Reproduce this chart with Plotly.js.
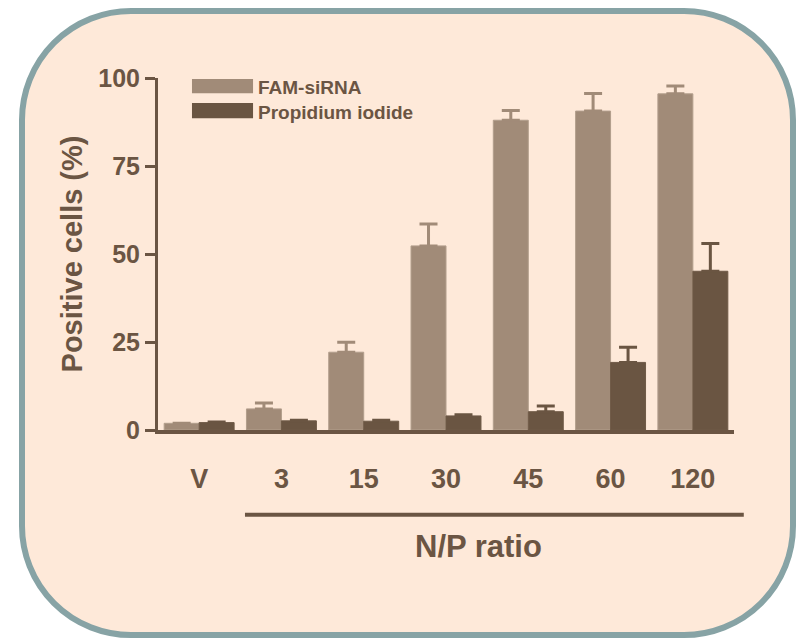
<!DOCTYPE html>
<html>
<head>
<meta charset="utf-8">
<script src="https://cdn.plot.ly/plotly-3.0.1.min.js"></script>
<style>
  html, body { margin: 0; padding: 0; background: #ffffff; }
  #frame { position: absolute; left: 19px; top: 8px; width: 777px; height: 630px;
           box-sizing: border-box; border: 6px solid #87a3a5; border-radius: 112px;
           background: #fee9d9; }
  #chart { position: absolute; left: 0; top: 0; width: 800px; height: 639px; }
</style>
</head>
<body>
<div id="frame"></div>
<div id="chart"></div>
<script>
// ---- data ----
const categories = ["V", "3", "15", "30", "45", "60", "120"];
const seriesNames = ["FAM-siRNA", "Propidium iodide"];
const famValues = [1.9, 6.0, 22.1, 52.3, 88.0, 90.6, 95.5];
const famErrors = [0, 1.7, 2.8, 6.2, 2.8, 5.0, 2.2];
const piValues = [2.1, 2.6, 2.5, 4.0, 5.2, 19.2, 45.1];
const piErrors = [0.2, 0.2, 0.3, 0.3, 1.6, 4.3, 7.9];
const yTicks = [0, 25, 50, 75, 100];
const yAxisTitle = "Positive cells (%)";
const xAxisTitle = "N/P ratio";

// ---- styles ----
const ink = "#6b5543";
const famColor = "#a18b78";
const piColor = "#6a5542";
const fontFamily = "Liberation Sans, Arial, sans-serif";

const zeros = n => n.map(() => 0);

const traces = [
  {
    type: "bar", name: seriesNames[0], x: categories, y: famValues,
    marker: { color: famColor, line: { color: "#b29e8c", width: 1 } },
    error_y: { type: "data", array: famErrors, arrayminus: zeros(famErrors), symmetric: false,
               color: famColor, thickness: 3, width: 9 },
    hoverinfo: "x+y"
  },
  {
    type: "bar", name: seriesNames[1], x: categories, y: piValues,
    marker: { color: piColor, line: { color: "#6f5a47", width: 1 } },
    error_y: { type: "data", array: piErrors, arrayminus: zeros(piErrors), symmetric: false,
               color: piColor, thickness: 3, width: 9 },
    hoverinfo: "x+y"
  }
];

const layout = {
  width: 800, height: 639,
  margin: { l: 158, r: 66, t: 78, b: 209 },
  paper_bgcolor: "rgba(0,0,0,0)",
  plot_bgcolor: "rgba(0,0,0,0)",
  showlegend: false,
  barmode: "group",
  bargap: 0.15,
  bargroupgap: 0,
  font: { family: fontFamily, color: ink, weight: "bold" },
  xaxis: {
    type: "category",
    range: [-0.5, categories.length - 0.5],
    showline: true, linecolor: ink, linewidth: 4,
    ticks: "", showgrid: false, zeroline: false,
    tickfont: { size: 27, color: ink, family: fontFamily, weight: "bold" },
    ticklabelstandoff: 22,
    automargin: false
  },
  yaxis: {
    range: [0, 100],
    tickvals: yTicks,
    ticktext: yTicks.map(String),
    showline: true, linecolor: ink, linewidth: 3,
    ticks: "outside", ticklen: 10, tickwidth: 3, tickcolor: ink,
    showgrid: false, zeroline: false,
    tickfont: { size: 25, color: ink, family: fontFamily, weight: "bold" },
    title: { text: yAxisTitle, font: { size: 29, color: ink, family: fontFamily, weight: "bold" }, standoff: 8 },
    automargin: false
  },
  shapes: [
    { type: "rect", xref: "paper", yref: "paper", x0: 0.059, x1: 0.165, y0: 0.957, y1: 0.997,
      fillcolor: famColor, line: { width: 0 } },
    { type: "rect", xref: "paper", yref: "paper", x0: 0.059, x1: 0.165, y0: 0.886, y1: 0.929,
      fillcolor: piColor, line: { width: 0 } },
    { type: "line", xref: "paper", yref: "paper", x0: 0.151, x1: 1.017, y0: -0.241, y1: -0.241,
      line: { color: ink, width: 4 } }
  ],
  annotations: [
    { xref: "paper", yref: "paper", x: 0.170, y: 0.974, xanchor: "left", yanchor: "middle",
      text: seriesNames[0], showarrow: false,
      font: { size: 19, color: ink, family: fontFamily, weight: "bold" } },
    { xref: "paper", yref: "paper", x: 0.170, y: 0.903, xanchor: "left", yanchor: "middle",
      text: seriesNames[1], showarrow: false,
      font: { size: 19, color: ink, family: fontFamily, weight: "bold" } },
    { xref: "paper", yref: "paper", x: 0.556, y: -0.332, xanchor: "center", yanchor: "middle",
      text: xAxisTitle, showarrow: false,
      font: { size: 31, color: ink, family: fontFamily, weight: "bold" } }
  ]
};

Plotly.newPlot("chart", traces, layout, { displayModeBar: false, staticPlot: true });
</script>
</body>
</html>
